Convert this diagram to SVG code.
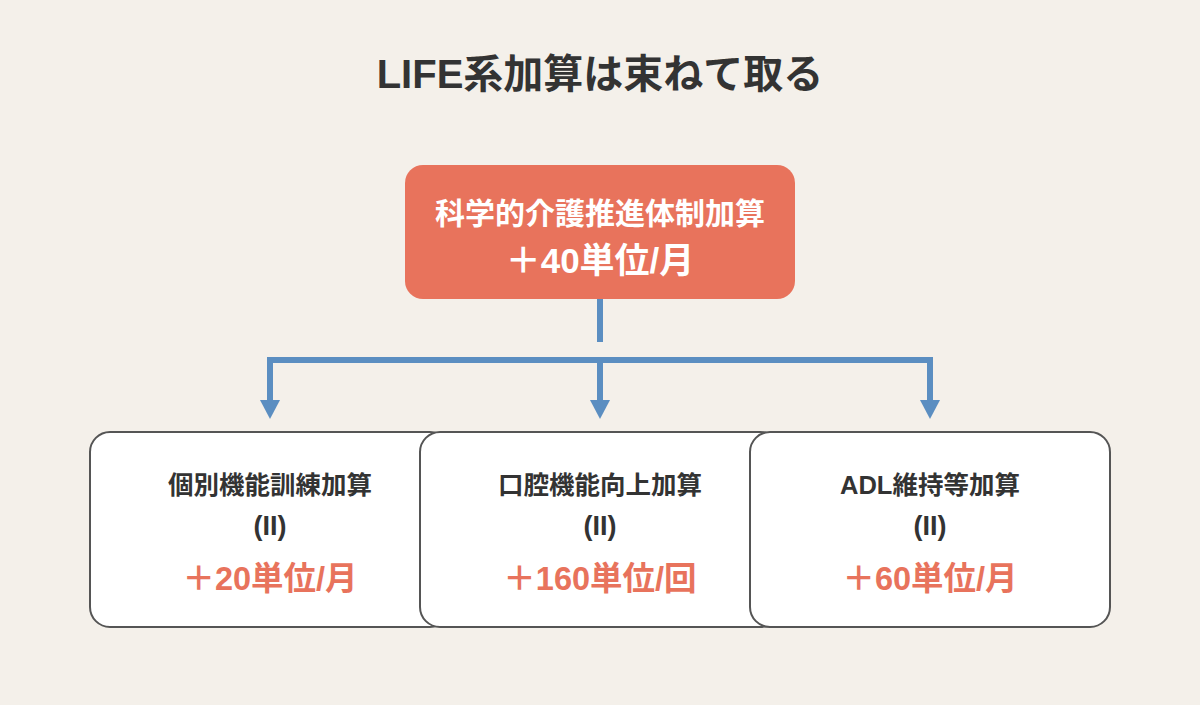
<svg xmlns="http://www.w3.org/2000/svg" width="1200" height="705" viewBox="0 0 1200 705">
<style>
text{font-family:"Liberation Sans","Noto Sans CJK JP",sans-serif;font-weight:bold;text-anchor:middle}
.title{font-size:40px;fill:#333333}
.top{fill:#E8735C}
.topt{fill:#ffffff}
.box{fill:#ffffff;stroke:#555555;stroke-width:2}
.name{font-size:25.5px;fill:#333333}
.sub{font-size:27px;fill:#333333}
.amt{font-size:32.5px;fill:#E8735C}
.ln{stroke:#5B8EC1;stroke-width:6;fill:none}
.ah{fill:#5B8EC1}
</style>
<rect width="1200" height="705" fill="#F4F0EA"/>
<text class="title" x="600" y="88">LIFE系加算は束ねて取る</text>
<g id="top-node">
<rect class="top" x="405" y="165" width="390" height="134" rx="18"/>
<text class="topt" x="600" y="224" font-size="30">科学的介護推進体制加算</text>
<text class="topt" x="600" y="273" font-size="35">＋40単位/月</text>
</g>
<g id="connectors">
<line class="ln" x1="600" y1="299" x2="600" y2="342"/>
<line class="ln" x1="267" y1="360" x2="933" y2="360"/>
<line class="ln" x1="270" y1="363" x2="270" y2="402"/>
<line class="ln" x1="600" y1="363" x2="600" y2="402"/>
<line class="ln" x1="930" y1="363" x2="930" y2="402"/>
<polygon class="ah" points="260,400 280,400 270,419"/>
<polygon class="ah" points="590,400 610,400 600,419"/>
<polygon class="ah" points="920,400 940,400 930,419"/>
</g>
<g id="node-1">
<rect class="box" x="90" y="432" width="360" height="195" rx="20"/>
<text class="name" x="270" y="494">個別機能訓練加算</text>
<text class="sub" x="270" y="535">(II)</text>
<text class="amt" x="270" y="590">＋20単位/月</text>
</g>
<g id="node-2">
<rect class="box" x="420" y="432" width="360" height="195" rx="20"/>
<text class="name" x="600" y="494">口腔機能向上加算</text>
<text class="sub" x="600" y="535">(II)</text>
<text class="amt" x="600" y="590">＋160単位/回</text>
</g>
<g id="node-3">
<rect class="box" x="750" y="432" width="360" height="195" rx="20"/>
<text class="name" x="930" y="494">ADL維持等加算</text>
<text class="sub" x="930" y="535">(II)</text>
<text class="amt" x="930" y="590">＋60単位/月</text>
</g>
</svg>
